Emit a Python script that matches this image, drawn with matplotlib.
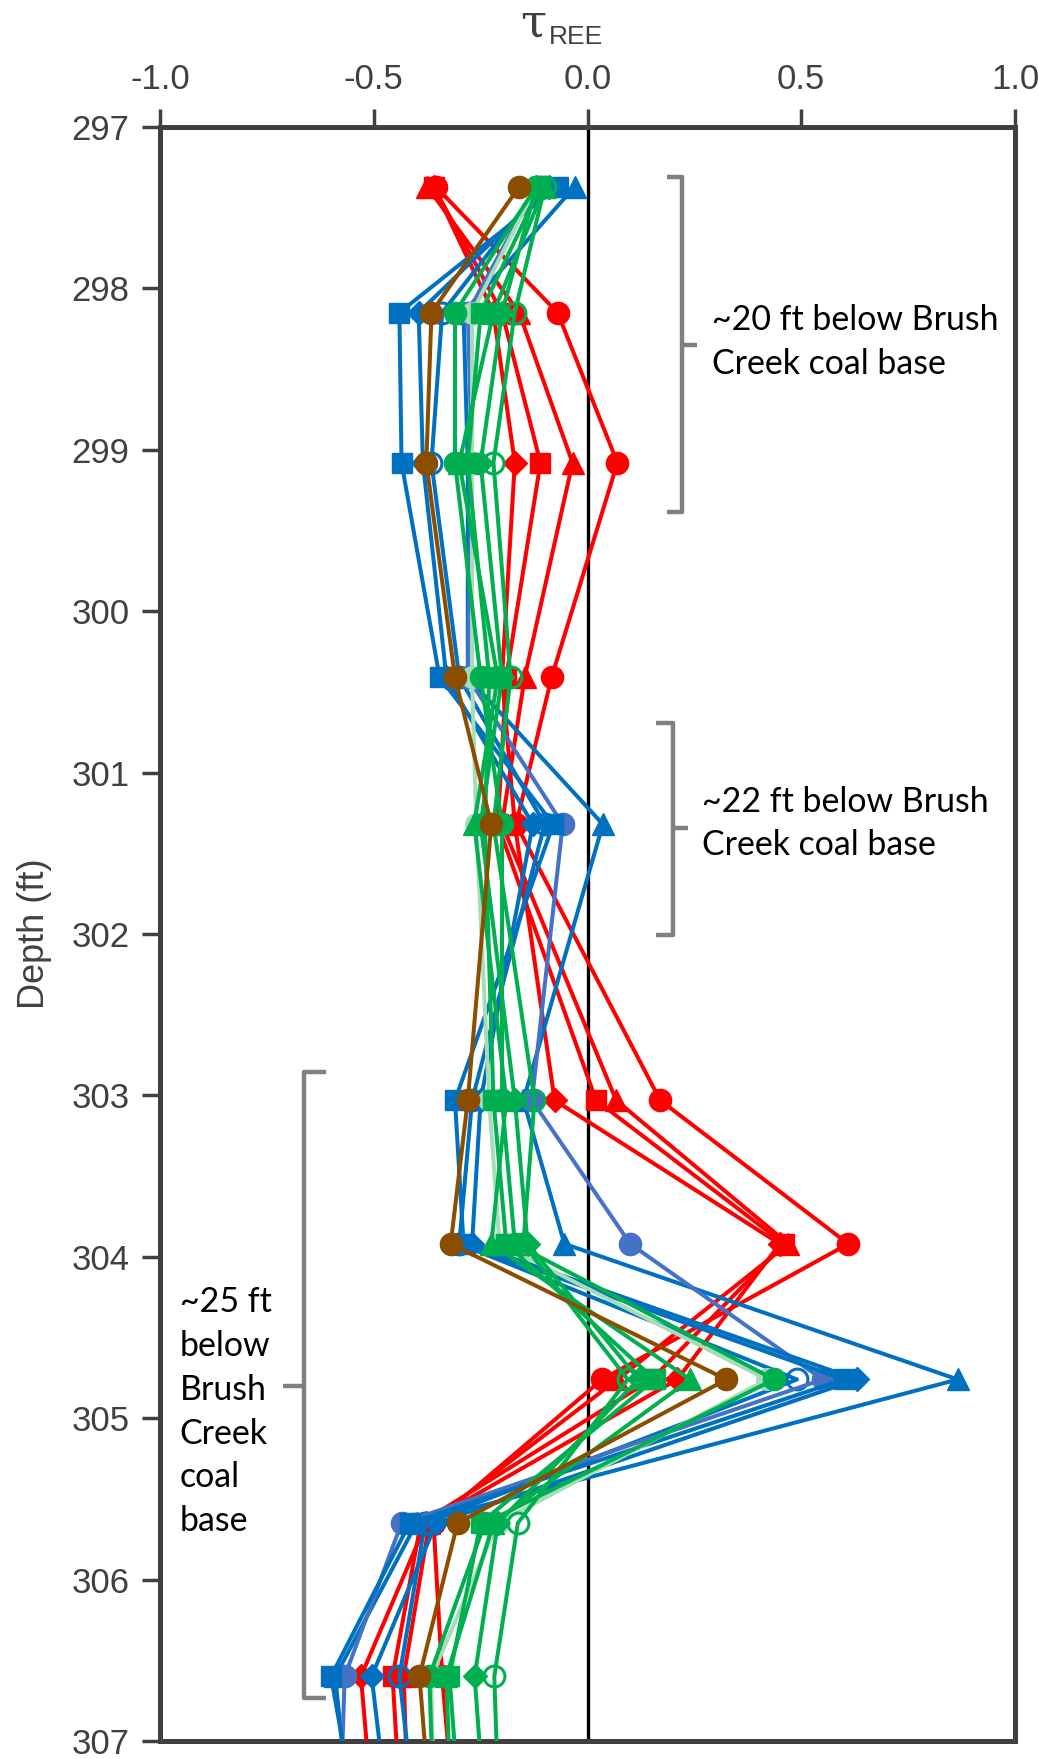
import matplotlib
matplotlib.use("Agg")
import matplotlib.pyplot as plt

plt.rcParams["axes.unicode_minus"] = False

# Sample depths (ft); the last one lies just below the plotted window
depth = [297.37, 298.15, 299.08, 300.41, 301.32, 303.03, 303.92, 304.76, 305.65, 306.60, 307.40]

# tau_REE profiles
red_circle   = [-0.355, -0.07, 0.07, -0.084, -0.167, 0.17, 0.61, 0.034, -0.36, -0.34, -0.314]
red_triangle = [-0.375, -0.16, -0.035, -0.147, -0.20, 0.067, 0.47, 0.07, -0.37, -0.43, -0.42]
red_square   = [-0.36, -0.20, -0.11, -0.19, -0.21, 0.02, 0.46, 0.15, -0.39, -0.456, -0.438]
red_diamond  = [-0.36, -0.22, -0.17, -0.20, -0.17, -0.077, 0.45, 0.21, -0.377, -0.53, -0.504]

blue_square   = [-0.07, -0.44, -0.435, -0.346, -0.08, -0.31, -0.29, 0.60, -0.416, -0.60, -0.546]
blue_diamond  = [-0.09, -0.395, -0.385, -0.33, -0.128, -0.25, -0.27, 0.63, -0.354, -0.505, -0.469]
blue_triangle = [-0.03, -0.29, -0.28, -0.28, 0.036, -0.15, -0.054, 0.866, -0.40, -0.59, -0.56]
blue_open     = [-0.11, -0.34, -0.365, -0.30, -0.10, -0.27, -0.30, 0.49, -0.38, -0.44, -0.406]
blue_light    = [-0.12, -0.28, -0.27, -0.28, -0.058, -0.13, 0.10, 0.55, -0.435, -0.568, -0.578]

pale_green = [-0.12, -0.27, -0.27, -0.27, -0.26, -0.23, -0.206, 0.42, -0.21, -0.365, -0.36]

green_circle   = [-0.12, -0.31, -0.31, -0.25, -0.20, -0.20, -0.17, 0.437, -0.24, -0.37, -0.36]
green_square   = [-0.11, -0.25, -0.28, -0.23, -0.24, -0.22, -0.19, 0.157, -0.25, -0.323, -0.30]
green_triangle = [-0.10, -0.22, -0.30, -0.21, -0.265, -0.19, -0.225, 0.24, -0.22, -0.33, -0.32]
green_diamond  = [-0.12, -0.20, -0.25, -0.20, -0.25, -0.17, -0.14, 0.12, -0.21, -0.264, -0.242]
green_open     = [-0.10, -0.17, -0.22, -0.18, -0.22, -0.124, -0.15, 0.094, -0.163, -0.218, -0.208]

brown_circle = [-0.16, -0.365, -0.377, -0.31, -0.225, -0.28, -0.32, 0.325, -0.304, -0.393, -0.369]

x_ticks = [-1.0, -0.5, 0.0, 0.5, 1.0]
y_ticks = [297, 298, 299, 300, 301, 302, 303, 304, 305, 306, 307]

RED = "#FF0000"
BLUE = "#0070C0"
LBLUE = "#4472C4"
GREEN = "#00B050"
PALE = "#A6DDB9"
BROWN = "#8B4D00"
AXC = "#404040"

series = [
    (red_circle, RED, "o", 16, True),
    (red_triangle, RED, "^", 15.5, True),
    (red_square, RED, "s", 14.5, True),
    (red_diamond, RED, "D", 12.5, True),
    (blue_open, BLUE, "o", 15, False),
    (blue_triangle, BLUE, "^", 15.5, True),
    (blue_light, LBLUE, "o", 16, True),
    (blue_diamond, BLUE, "D", 12.5, True),
    (blue_square, BLUE, "s", 14.5, True),
    (pale_green, PALE, "o", 15.5, True),
    (green_open, GREEN, "o", 15, False),
    (green_diamond, GREEN, "D", 12.5, True),
    (green_triangle, GREEN, "^", 15.5, True),
    (green_square, GREEN, "s", 14.5, True),
    (green_circle, GREEN, "o", 16, True),
    (brown_circle, BROWN, "o", 16, True),
]

fig = plt.figure(figsize=(10.39, 17.59), dpi=100)
ax = fig.add_axes([160 / 1039, 1 - 1741 / 1759, 855 / 1039, 1614 / 1759])

ax.axvline(0, color="black", lw=2.4, zorder=1)

for i, (vals, col, mk, ms, filled) in enumerate(series):
    if filled:
        ax.plot(vals, depth, color=col, lw=2.9, marker=mk, ms=ms,
                mfc=col, mec=col, mew=1, zorder=2 + i)
    else:
        ax.plot(vals, depth, color=col, lw=2.9, marker=mk, ms=ms,
                mfc="none", mec=col, mew=2.2, zorder=2 + i)

ax.set_xlim(-1.0, 1.0)
ax.set_ylim(307, 297)
ax.set_xticks(x_ticks)
ax.set_xticklabels([f"{v:.1f}" for v in x_ticks])
ax.set_yticks(y_ticks)
ax.set_yticklabels([str(v) for v in y_ticks])

ax.xaxis.tick_top()
for s in ax.spines.values():
    s.set_color(AXC)
    s.set_linewidth(3.6)
ax.tick_params(axis="both", direction="out", length=13, width=2.5, color=AXC,
               labelsize=25, labelcolor=AXC, pad=9)
for lab in ax.get_xticklabels() + ax.get_yticklabels():
    lab.set_fontfamily("Liberation Sans")

# Axis titles: tau with a sans-serif "REE" subscript above the top axis
fig.text(520 / 1039, 1 - 24 / 1759, "τ", fontsize=34, color=AXC,
         fontfamily="DejaVu Serif", ha="left", va="center")
fig.text(549 / 1039, 1 - 37 / 1759, "REE", fontsize=19, color=AXC,
         fontfamily="Liberation Sans", ha="left", va="center")
ax.set_ylabel("Depth (ft)", fontsize=26, color=AXC, fontfamily="Liberation Sans",
              labelpad=14)

# Depth-interval brackets and their captions
BRK = "#808080"


def bracket(x_line, x_hook, x_nub, y_top, y_bot, y_mid):
    ax.plot([x_hook, x_line, x_line, x_hook], [y_top, y_top, y_bot, y_bot],
            color=BRK, lw=3.2, solid_joinstyle="round", solid_capstyle="butt",
            clip_on=False, zorder=30)
    ax.plot([x_line, x_nub], [y_mid, y_mid], color=BRK, lw=3.2,
            solid_capstyle="butt", clip_on=False, zorder=30)


bracket(0.222, 0.187, 0.257, 297.31, 299.385, 298.35)
bracket(0.199, 0.161, 0.236, 300.69, 302.006, 301.343)
bracket(-0.662, -0.611, -0.713, 302.855, 306.733, 304.80)

txt_kw = dict(fontsize=24.4, fontfamily="Lato", color="black", va="center",
              ha="left", linespacing=1.45, zorder=31)
ax.text(0.292, 298.33, "~20 ft below Brush\nCreek coal base", **txt_kw)
ax.text(0.269, 301.315, "~22 ft below Brush\nCreek coal base", **txt_kw)
ax.text(-0.954, 304.96, "~25 ft\nbelow\nBrush\nCreek\ncoal\nbase", **txt_kw)

fig.savefig("out.png", dpi=100)
